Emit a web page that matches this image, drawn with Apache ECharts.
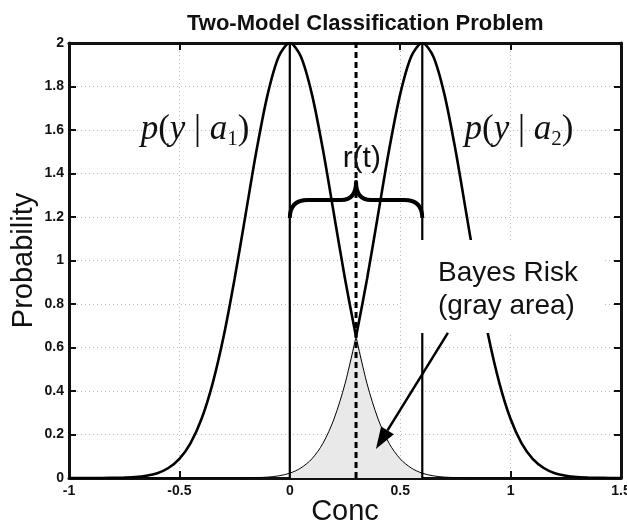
<!DOCTYPE html>
<html><head><meta charset="utf-8">
<script src="https://cdn.jsdelivr.net/npm/echarts@6/dist/echarts.min.js"></script>
<style>html,body{margin:0;padding:0;background:#fff}#c{width:627px;height:524px}</style>
</head><body><div id="c"></div>
<script>
// ---- data ----
const conc = [-1.00,-0.95,-0.90,-0.85,-0.80,-0.75,-0.70,-0.65,-0.60,-0.55,-0.50,-0.45,-0.40,-0.35,-0.30,-0.25,-0.20,-0.15,-0.10,-0.05,
  0.00,0.05,0.10,0.15,0.20,0.25,0.30,0.35,0.40,0.45,0.50,0.55,0.60,0.65,0.70,0.75,0.80,0.85,0.90,0.95,
  1.00,1.05,1.10,1.15,1.20,1.25,1.30,1.35,1.40,1.45,1.50];
const pA1 = [0,0,0,0,0.001,0.002,0.004,0.010,0.022,0.046,0.088,0.159,0.271,0.433,0.649,0.916,1.213,1.510,1.765,1.938,
  2.000,1.938,1.765,1.510,1.213,0.916,0.649,0.433,0.271,0.159,0.088,0.046,0.022,0.010,0.004,0.002,0.001,0,0,0,
  0,0,0,0,0,0,0,0,0,0,0];
const pA2 = [0,0,0,0,0,0,0,0,0,0,0,0,0,0,0,0,0.001,0.002,0.004,0.010,
  0.022,0.046,0.088,0.159,0.271,0.433,0.649,0.916,1.213,1.510,1.765,1.938,2.000,1.938,1.765,1.510,1.213,0.916,0.649,0.433,
  0.271,0.159,0.088,0.046,0.022,0.010,0.004,0.002,0.001,0,0];
const modelCenters = [0, 0.6];     // vertical solid lines
const threshold = 0.3;             // dashed decision line
const yTop = 2;

// annotation anchors (data units)
const braceSpan = [0, 0.6];
const braceLevels = {end: 1.195, flat: 1.278, tip: 1.361};
const arrowFrom = [0.716, 0.667];
const arrowTo = [0.39, 0.133];
const riskBox = [0.504, 1.094, 1.418, 0.667];
const riskText = {x: 0.671, y: 0.864, text: 'Bayes Risk\n(gray area)'};
const rtText = {x: 0.326, y: 1.47, text: 'r(t)'};
const pdfLabels = [{x: -0.429, y: 1.595, sub: '1'}, {x: 1.038, y: 1.595, sub: '2'}];

const SANS = '"Liberation Sans", Arial, sans-serif';
const SERIF = '"Liberation Serif", "Times New Roman", serif';

const pairs = (arr, keep) => conc.map((x, i) => [x, arr[i]]).filter(p => keep(p[0]));
const thickA1 = pairs(pA1, x => x <= threshold);
const thinA1 = pairs(pA1, x => x >= threshold);
const thickA2 = pairs(pA2, x => x >= threshold);
const thinA2 = pairs(pA2, x => x <= threshold);
const riskArea = conc.map((x, i) => [x, Math.min(pA1[i], pA2[i])]).filter(p => p[0] >= braceSpan[0] && p[0] <= braceSpan[1]);

const chart = echarts.init(document.getElementById('c'), null, {renderer: 'canvas'});

const curve = (data, w, z) => ({type: 'line', data, smooth: 0.3, symbol: 'none', z,
  lineStyle: {color: '#000', width: w}, silent: true});

const axisCommon = {type: 'value', min: -1, max: 1.5, interval: 0.5};
const frameLine = {show: true, onZero: false, lineStyle: {color: '#111', width: 3}};
const frameTick = {show: true, inside: true, length: 7, lineStyle: {color: '#111', width: 2}};

const option = {
  animation: false,
  backgroundColor: '#fff',
  title: {text: 'Two-Model Classification Problem', left: 182, top: 8,
    textStyle: {fontFamily: SANS, fontWeight: 'bold', fontSize: 22, color: '#111'}},
  grid: {left: 69, right: 6, top: 43, bottom: 46, containLabel: false, outerBoundsMode: 'none'},
  xAxis: [
    Object.assign({}, axisCommon, {position: 'bottom', name: 'Conc', nameLocation: 'middle', nameGap: 19,
      nameMoveOverlap: false,
      nameTextStyle: {fontFamily: SANS, fontSize: 29, color: '#111'},
      axisLine: frameLine, axisTick: frameTick,
      axisLabel: {fontFamily: SANS, fontWeight: 'bold', fontSize: 14, color: '#111', margin: 6},
      splitLine: {show: true, lineStyle: {color: '#b8b8b8', width: 1, type: [1, 3]}}}),
    Object.assign({}, axisCommon, {position: 'top',
      axisLine: frameLine, axisTick: frameTick,
      axisLabel: {show: false}, splitLine: {show: false}})
  ],
  yAxis: [
    {type: 'value', min: 0, max: yTop, interval: 0.2, position: 'left', name: 'Probability',
      nameLocation: 'middle', nameGap: 31, nameMoveOverlap: false,
      nameTextStyle: {fontFamily: SANS, fontSize: 29, color: '#111'},
      axisLine: frameLine, axisTick: frameTick,
      axisLabel: {fontFamily: SANS, fontWeight: 'bold', fontSize: 14, color: '#111', margin: 5,
        formatter: v => String(Math.round(v * 10) / 10)},
      splitLine: {show: true, lineStyle: {color: '#b8b8b8', width: 1, type: [1, 3]}}},
    {type: 'value', min: 0, max: yTop, interval: 0.2, position: 'right',
      axisLine: frameLine, axisTick: frameTick,
      axisLabel: {show: false}, splitLine: {show: false}}
  ],
  series: [
    {type: 'line', data: riskArea, smooth: 0.3, symbol: 'none', z: 1, silent: true,
      lineStyle: {width: 0}, areaStyle: {color: '#e9e9e9', opacity: 1}},
    curve(thinA2, 1, 2),
    curve(thinA1, 1, 2),
    curve(thickA1, 2.6, 3),
    curve(thickA2, 2.6, 3),
    {type: 'line', symbol: 'none', z: 3, silent: true, data: [[modelCenters[0], 0], [modelCenters[0], yTop]],
      lineStyle: {color: '#000', width: 2.2}},
    {type: 'line', symbol: 'none', z: 3, silent: true, data: [[modelCenters[1], 0], [modelCenters[1], yTop]],
      lineStyle: {color: '#000', width: 2.2}},
    {type: 'line', symbol: 'none', z: 3, silent: true, data: [[threshold, 0], [threshold, yTop]],
      lineStyle: {color: '#000', width: 3, type: [6, 4]}},
    // white box behind the Bayes risk text
    {type: 'custom', z: 6, silent: true, data: [riskBox],
      renderItem: (params, api) => {
        const p0 = api.coord([riskBox[0], riskBox[1]]);
        const p1 = api.coord([riskBox[2], riskBox[3]]);
        const tp = api.coord([riskText.x, riskText.y]);
        return {type: 'group', children: [
          {type: 'rect', shape: {x: p0[0], y: p0[1], width: p1[0] - p0[0], height: p1[1] - p0[1]},
            style: {fill: '#fff'}},
          {type: 'text', x: tp[0], y: tp[1],
            style: {text: riskText.text, fontFamily: SANS, fontSize: 28, lineHeight: 33, fill: '#111',
              align: 'left', verticalAlign: 'middle'}}
        ]};
      }},
    // arrow
    {type: 'custom', z: 7, silent: true, data: [0],
      renderItem: (params, api) => {
        const p = api.coord(arrowFrom), q = api.coord(arrowTo);
        const dx = q[0] - p[0], dy = q[1] - p[1], len = Math.hypot(dx, dy);
        const ux = dx / len, uy = dy / len, L = 22, W = 15;
        const bx = q[0] - ux * L, by = q[1] - uy * L;
        return {type: 'group', children: [
          {type: 'line', shape: {x1: p[0], y1: p[1], x2: bx, y2: by}, style: {stroke: '#000', lineWidth: 2.5}},
          {type: 'polygon', shape: {points: [[q[0], q[1]], [bx - uy * W / 2, by + ux * W / 2], [bx + uy * W / 2, by - ux * W / 2]]},
            style: {fill: '#000'}}
        ]};
      }},
    // brace, r(t) and density labels
    {type: 'custom', z: 7, silent: true, data: [0],
      renderItem: (params, api) => {
        const a = api.coord([braceSpan[0], braceLevels.end]);
        const b = api.coord([braceSpan[1], braceLevels.end]);
        const m = api.coord([(braceSpan[0] + braceSpan[1]) / 2, braceLevels.tip]);
        const F = api.coord([0, braceLevels.flat])[1];
        const re = 18, rt = 15;
        const d = `M${a[0]},${a[1]} Q${a[0]},${F} ${a[0] + re},${F} L${m[0] - rt},${F} Q${m[0]},${F} ${m[0]},${m[1]} ` +
          `Q${m[0]},${F} ${m[0] + rt},${F} L${b[0] - re},${F} Q${b[0]},${F} ${b[0]},${b[1]}`;
        const rtp = api.coord([rtText.x, rtText.y]);
        const kids = [
          {type: 'path', shape: {pathData: d}, style: {stroke: '#000', lineWidth: 4, fill: null, lineJoin: 'round'}},
          {type: 'text', x: rtp[0], y: rtp[1], style: {text: rtText.text, fontFamily: SANS, fontSize: 30, fill: '#111',
            align: 'center', verticalAlign: 'middle'}}
        ];
        pdfLabels.forEach(l => {
          const c = api.coord([l.x, l.y]);
          kids.push({type: 'text', x: c[0], y: c[1], style: {
            text: `{i|p}{n|(}{i|y}{n| | }{i|a}{s|${l.sub}}{n|)}`,
            align: 'center', verticalAlign: 'middle',
            rich: {
              i: {fontFamily: SERIF, fontStyle: 'italic', fontSize: 35, lineHeight: 38, verticalAlign: 'top', fill: '#111'},
              n: {fontFamily: SERIF, fontSize: 35, lineHeight: 38, verticalAlign: 'top', fill: '#111'},
              s: {fontFamily: SERIF, fontSize: 21, lineHeight: 22, padding: [22, 0, 0, 0], verticalAlign: 'bottom', fill: '#111'}
            }}});
        });
        return {type: 'group', children: kids};
      }}
  ]
};
chart.setOption(option);
</script>
</body></html>
